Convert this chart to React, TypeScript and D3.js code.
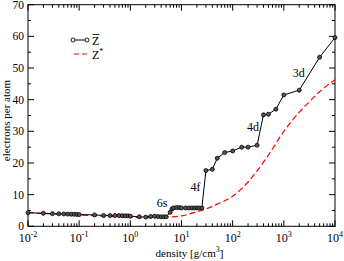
import React from 'react';
import * as d3 from 'd3';

// mean ionization Z-bar (black, with markers)
const zbarDensity = [0.01, 0.02, 0.03, 0.04, 0.05, 0.06, 0.07, 0.08, 0.09, 0.1, 0.2, 0.3, 0.4, 0.5, 0.6, 0.7, 0.8, 0.9, 1, 1.5, 2, 2.5, 3, 3.5, 4, 4.5, 5, 6, 6.5, 7, 8, 9, 10, 12, 14, 16, 18, 20, 22, 25, 30, 40, 50, 70, 100, 150, 200, 300, 400, 500, 700, 1000, 2000, 5000, 10000];
const zbarValues = [4.3, 4.1, 4.0, 3.95, 3.9, 3.85, 3.8, 3.8, 3.75, 3.7, 3.6, 3.4, 3.4, 3.4, 3.4, 3.35, 3.3, 3.3, 3.2, 3.0, 2.9, 3.1, 3.2, 3.1, 3.0, 3.0, 3.0, 4.4, 5.5, 5.8, 5.9, 5.9, 5.8, 5.8, 5.8, 5.8, 5.8, 5.8, 5.8, 5.8, 17.6, 18.0, 21.5, 23.3, 23.8, 25.0, 25.0, 25.6, 35.2, 35.4, 37.0, 41.5, 43.0, 53.4, 59.6];

// Z* (red dashed)
const zstarDensity = [0.01, 0.03, 0.1, 0.3, 1, 2, 5, 10, 20, 30, 50, 100, 200, 300, 500, 1000, 2000, 3000, 5000, 10000];
const zstarValues = [4.3, 3.9, 3.6, 3.2, 2.9, 2.7, 2.9, 3.3, 4.6, 5.5, 7.0, 9.5, 14, 17.5, 22.5, 30, 36, 39, 42.5, 46.3];

const xTickExp = [-2, -1, 0, 1, 2, 3, 4];
const yTicks = [0, 10, 20, 30, 40, 50, 60, 70];

const shellLabels = [
  { text: '6s', d: 3.3, z: 6.1 },
  { text: '4f', d: 15, z: 11.2 },
  { text: '4d', d: 190, z: 30.2 },
  { text: '3d', d: 1500, z: 47.3 },
];

const W = 344, H = 261;
const L = 28, R = 335, T = 4.7, B = 226.3;

export default function App() {
  const x = d3.scaleLog().domain([0.01, 10000]).range([L, R]);
  const y = d3.scaleLinear().domain([0, 70]).range([B, T]);

  const zbar = zbarDensity.map((d, i) => [d, zbarValues[i]] as [number, number]);
  const zstar = zstarDensity.map((d, i) => [d, zstarValues[i]] as [number, number]);

  const line = d3.line<[number, number]>().x(d => x(d[0])).y(d => y(d[1]));
  const smooth = d3.line<[number, number]>().x(d => x(d[0])).y(d => y(d[1])).curve(d3.curveMonotoneX);

  const minorX: number[] = [];
  for (let e = -2; e < 4; e++) for (let m = 2; m <= 9; m++) minorX.push(m * Math.pow(10, e));
  const minorY = d3.range(5, 70, 10);

  const font = "'Liberation Serif', 'DejaVu Serif', serif";

  return (
    <svg width={W} height={H} style={{ position: 'absolute', left: 0, top: 0, fontFamily: font }}>
      <rect x={L} y={T} width={R - L} height={B - T} fill="none" stroke="black" strokeWidth={1} />

      {/* x ticks */}
      {xTickExp.map(e => {
        const px = x(Math.pow(10, e));
        return (
          <g key={'xt' + e}>
            <line x1={px} x2={px} y1={B} y2={B - 6} stroke="black" />
            <line x1={px} x2={px} y1={T} y2={T + 6} stroke="black" />
            <text x={px} y={242} textAnchor="middle" fontSize={12}>
              10<tspan dy={-5} fontSize={8}>{e}</tspan>
            </text>
          </g>
        );
      })}
      {minorX.map((v, i) => (
        <g key={'xm' + i}>
          <line x1={x(v)} x2={x(v)} y1={B} y2={B - 3} stroke="black" />
          <line x1={x(v)} x2={x(v)} y1={T} y2={T + 3} stroke="black" />
        </g>
      ))}

      {/* y ticks */}
      {yTicks.map(t => (
        <g key={'yt' + t}>
          <line x1={L} x2={L + 6} y1={y(t)} y2={y(t)} stroke="black" />
          <line x1={R} x2={R - 6} y1={y(t)} y2={y(t)} stroke="black" />
          <text x={24} y={y(t) + 4} textAnchor="end" fontSize={11.5}>{t}</text>
        </g>
      ))}
      {minorY.map(t => (
        <g key={'ym' + t}>
          <line x1={L} x2={L + 3} y1={y(t)} y2={y(t)} stroke="black" />
          <line x1={R} x2={R - 3} y1={y(t)} y2={y(t)} stroke="black" />
        </g>
      ))}

      {/* axis titles */}
      <text x={(L + R) / 2 + 8} y={257} textAnchor="middle" fontSize={11}>
        density [g/cm<tspan dy={-5} fontSize={8}>3</tspan><tspan dy={5}>]</tspan>
      </text>
      <text transform={`translate(10,${(T + B) / 2 + 5}) rotate(-90)`} textAnchor="middle" fontSize={11}>
        electrons per atom
      </text>

      {/* data */}
      <path d={smooth(zstar) || ''} fill="none" stroke="#ff0000" strokeWidth={1.2} strokeDasharray="6,3" />
      <path d={line(zbar) || ''} fill="none" stroke="black" strokeWidth={1} />
      {zbar.map((p, i) => (
        <circle key={'c' + i} cx={x(p[0])} cy={y(p[1])} r={2} fill="#555" stroke="black" strokeWidth={0.8} />
      ))}

      {/* shell annotations */}
      {shellLabels.map(s => (
        <text key={s.text} x={x(s.d)} y={y(s.z)} fontSize={12}>{s.text}</text>
      ))}

      {/* legend */}
      <line x1={73} x2={87} y1={40} y2={40} stroke="black" />
      <circle cx={73} cy={40} r={2} fill="white" stroke="black" strokeWidth={0.9} />
      <circle cx={87} cy={40} r={2} fill="white" stroke="black" strokeWidth={0.9} />
      <text x={92} y={45} fontSize={12}>Z</text>
      <line x1={92.5} x2={99.5} y1={34.5} y2={34.5} stroke="black" strokeWidth={0.8} />
      <line x1={74} x2={87} y1={54} y2={54} stroke="#ff0000" strokeWidth={1.2} strokeDasharray="5,3" />
      <text x={92} y={59} fontSize={12}>
        Z<tspan dy={-5} fontSize={8}>*</tspan>
      </text>
    </svg>
  );
}
